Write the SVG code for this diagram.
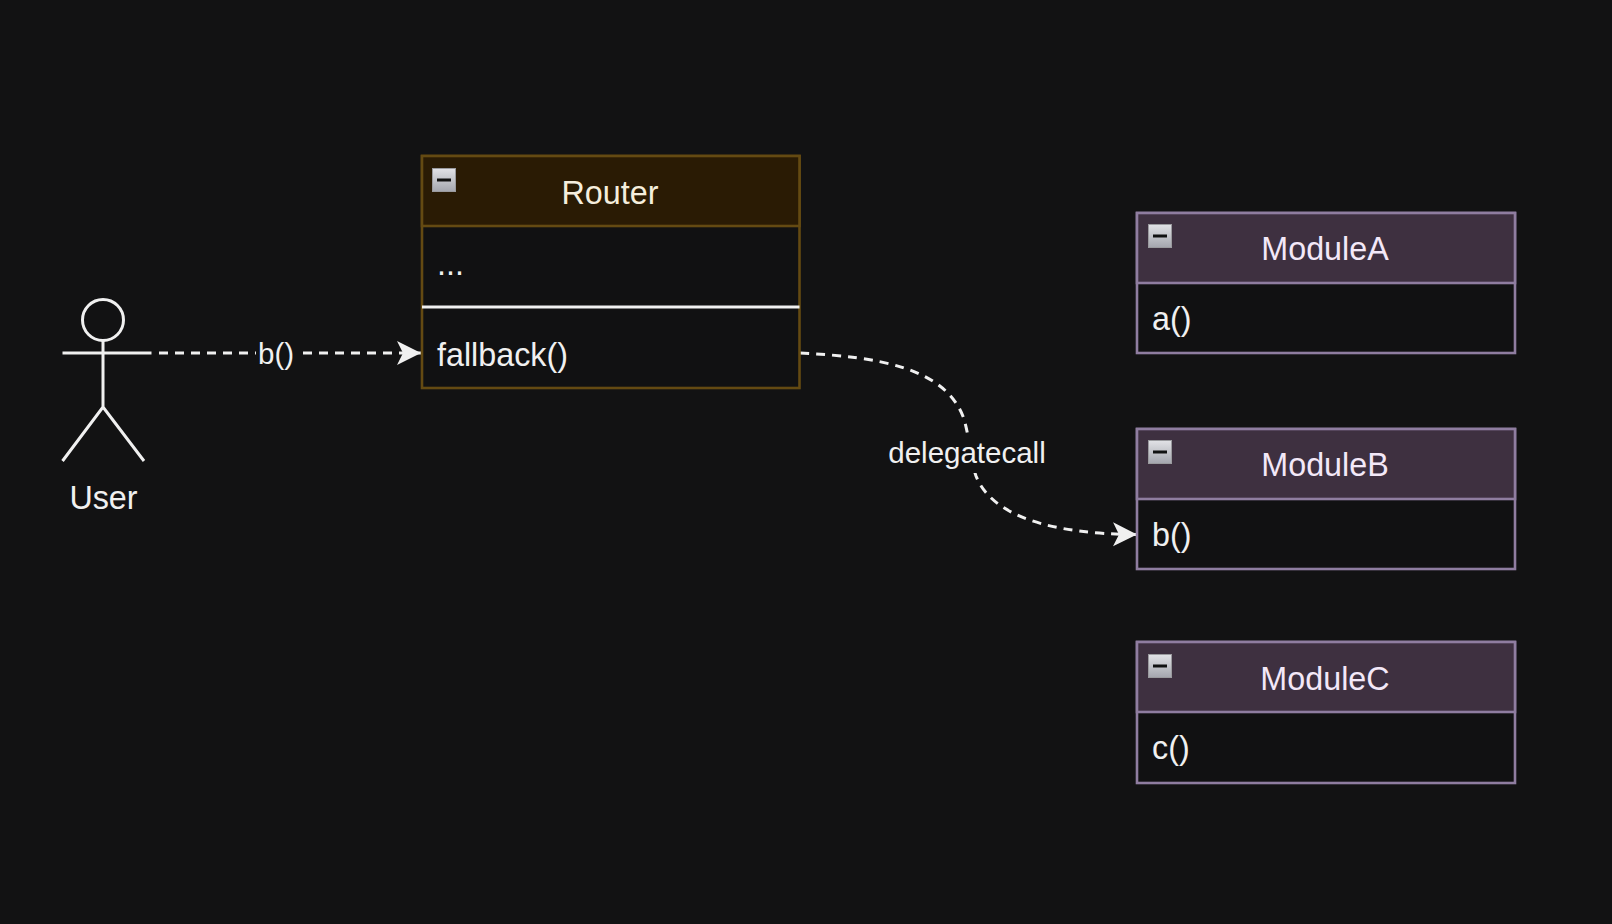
<svg xmlns="http://www.w3.org/2000/svg" width="1612" height="924" viewBox="0 0 1612 924">
<style>
text{font-family:"Liberation Sans",Arial,Helvetica,sans-serif;font-size:32.300px;fill:#f0f0f0}
.m{text-anchor:middle}
.rh{fill:#2a1b04;stroke:#644a12;stroke-width:2.600}
.rb{fill:#111112;stroke:#644a12;stroke-width:2.600}
.mh{fill:#3e3040;stroke:#8f7da0;stroke-width:2.600}
.mb{fill:#111112;stroke:#8f7da0;stroke-width:2.600}
.tb{fill:url(#tg);stroke:#9a9a9e;stroke-width:1}
.tl{stroke:#111;stroke-width:3}
.a{fill:none;stroke:#f0f0f0;stroke-width:3}
.c{fill:none;stroke:#f0f0f0;stroke-width:3;stroke-dasharray:9 7}
.lb{fill:#121213}
.l{font-size:29.500px}
</style>
<defs>
<linearGradient id="tg" x1="0" y1="0" x2="0" y2="1"><stop offset="0" stop-color="#e2e2e6"/><stop offset="1" stop-color="#a4a6ae"/></linearGradient>
<marker id="ah" markerUnits="userSpaceOnUse" markerWidth="26" markerHeight="26" refX="24" refY="12" orient="auto"><path d="M0 0L24 12L0 24L6 12Z" fill="#f0f0f0"/></marker>
</defs>
<rect width="1612" height="924" fill="#121213"/>
<g id="connectors">
<path class="c" d="M159 353H421" marker-end="url(#ah)"/>
<rect class="lb" x="256" y="335" width="40" height="38"/>
<text class="m l" x="276" y="364">b()</text>
<path class="c" d="M800 353C880 357 946 368 964 419C970 440 970 458 976 476C992 516 1050 534 1137 534.500" marker-end="url(#ah)"/>
<rect class="lb" x="886" y="433" width="164" height="40"/>
<text class="m l" x="967" y="463">delegatecall</text>
</g>
<g id="user">
<circle class="a" cx="103" cy="320" r="20.500"/>
<path class="a" d="M103 341V407M62.500 353H151.500M62.500 461L103 407L144 461"/>
<text class="m" x="103.500" y="509">User</text>
</g>
<g id="router">
<rect class="rb" x="422" y="156" width="377.500" height="232"/>
<rect class="rh" x="422" y="156" width="377.500" height="70"/>
<path d="M422 307H799.500" stroke="#f0f0f0" stroke-width="3"/>
<rect class="tb" x="432.500" y="168.500" width="23" height="23"/><path class="tl" d="M437 180H451"/>
<text class="m" x="610" y="204" style="fill:#f5eedd">Router</text>
<text x="437" y="275">...</text>
<text x="437" y="366">fallback()</text>
</g>
<g id="moduleA">
<rect class="mb" x="1137" y="213" width="378" height="140"/>
<rect class="mh" x="1137" y="213" width="378" height="70"/>
<rect class="tb" x="1148.500" y="224.500" width="23" height="23"/><path class="tl" d="M1153 236H1167"/>
<text class="m" x="1325" y="260" style="fill:#f3e8f8">ModuleA</text>
<text x="1152" y="330">a()</text>
</g>
<g id="moduleB">
<rect class="mb" x="1137" y="429" width="378" height="140"/>
<rect class="mh" x="1137" y="429" width="378" height="70"/>
<rect class="tb" x="1148.500" y="440.500" width="23" height="23"/><path class="tl" d="M1153 452H1167"/>
<text class="m" x="1325" y="476" style="fill:#f3e8f8">ModuleB</text>
<text x="1152" y="546">b()</text>
</g>
<g id="moduleC">
<rect class="mb" x="1137" y="642" width="378" height="141"/>
<rect class="mh" x="1137" y="642" width="378" height="70"/>
<rect class="tb" x="1148.500" y="654.500" width="23" height="23"/><path class="tl" d="M1153 666H1167"/>
<text class="m" x="1325" y="690" style="fill:#f3e8f8">ModuleC</text>
<text x="1152" y="759">c()</text>
</g>
</svg>
